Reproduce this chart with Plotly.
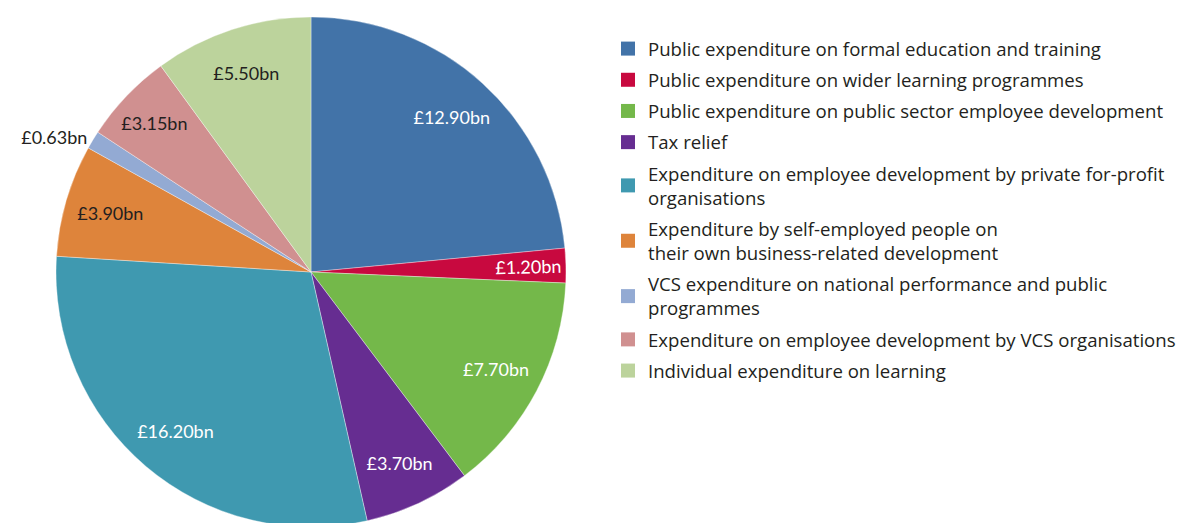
import plotly.graph_objects as go

categories = [
    "Public expenditure on formal education and training",
    "Public expenditure on wider learning programmes",
    "Public expenditure on public sector employee development",
    "Tax relief",
    "Expenditure on employee development by private for-profit<br>organisations",
    "Expenditure by self-employed people on<br>their own business-related development",
    "VCS expenditure on national performance and public<br>programmes",
    "Expenditure on employee development by VCS organisations",
    "Individual expenditure on learning",
]
values_bn = [12.90, 1.20, 7.70, 3.70, 16.20, 3.90, 0.63, 3.15, 5.50]
colors = ["#4273a8", "#c8093f", "#74b84a", "#662d91", "#3f99b0",
          "#de843b", "#93aad3", "#d09090", "#bcd39c"]
text_colors = ["white", "white", "white", "white", "white",
               "#231f20", "#231f20", "#231f20", "#231f20"]
labels_txt = [f"£{v:.2f}bn" for v in values_bn]
# thin slice label is drawn on the full pie, the rest on a rim ring
full_idx = [1]
ring_text = ["" if i in full_idx else t for i, t in enumerate(labels_txt)]
full_text = [t if i in full_idx else "" for i, t in enumerate(labels_txt)]
ring_pos = ["outside" if v < 1 else "inside" for v in values_bn]

LBL_FONT = "Lato"
LEG_FONT = "Open Sans"
W, H = 1192, 523
OFF = 8  # page offset of the plot div
cx, cy, R = 311 - OFF, 272 - OFF, 255
dom_x = [(cx - R) / W, (cx + R) / W]
dom_y = [1 - (cy + R) / H, 1 - (cy - R) / H]

fig = go.Figure()
fig.add_trace(go.Pie(
    labels=categories, values=values_bn, sort=False, direction="clockwise",
    rotation=0, marker=dict(colors=colors, line=dict(color="rgba(255,255,255,0.6)", width=0.6)),
    text=full_text, textinfo="text", textposition="inside",
    insidetextorientation="radial",
    textfont=dict(family=LBL_FONT, size=18, color=text_colors),
    hoverinfo="label+value", showlegend=False,
    domain=dict(x=dom_x, y=dom_y),
))
fig.add_trace(go.Pie(
    labels=categories, values=values_bn, sort=False, direction="clockwise",
    rotation=0, hole=0.64,
    marker=dict(colors=["rgba(0,0,0,0)"] * len(values_bn), line=dict(width=0)),
    text=ring_text, textinfo="text", textposition=ring_pos,
    insidetextorientation="horizontal",
    textfont=dict(family=LBL_FONT, size=18, color=text_colors),
    outsidetextfont=dict(family=LBL_FONT, size=18, color="#231f20"),
    hoverinfo="skip", showlegend=False,
    domain=dict(x=dom_x, y=dom_y),
))
for i, (name, col) in enumerate(zip(categories, colors)):
    fig.add_trace(go.Scatter(
        x=[None], y=[None], mode="markers", name=name,
        marker=dict(symbol="square", size=14, color=col),
        legendgroup=f"g{i}", showlegend=True, hoverinfo="skip",
    ))

fig.update_layout(
    width=W, height=H, margin=dict(l=0, r=0, t=0, b=0),
    paper_bgcolor="white", plot_bgcolor="white",
    xaxis=dict(visible=False), yaxis=dict(visible=False),
    showlegend=True,
    legend=dict(x=(608 - OFF) / W, y=1 - (30 - OFF) / H, xanchor="left", yanchor="top",
                font=dict(family=LEG_FONT, size=18.6, color="#231f20"),
                tracegroupgap=4, bgcolor="rgba(0,0,0,0)"),
    font=dict(family=LBL_FONT, size=18, color="#231f20"),
)
fig.write_html("out.html")
